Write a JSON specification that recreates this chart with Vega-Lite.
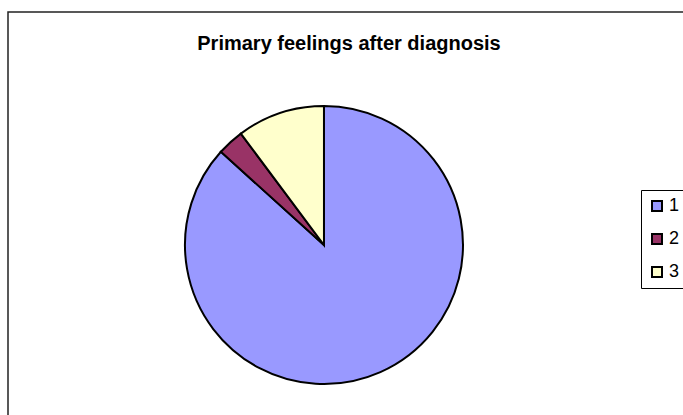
{
  "$schema": "https://vega.github.io/schema/vega-lite/v6.json",
  "width": 682,
  "height": 420,
  "autosize": {"type": "none"},
  "padding": {"left": 8, "top": 12, "right": 0, "bottom": 0},
  "background": "white",
  "config": {
    "view": {"stroke": "#222222", "strokeWidth": 1.5},
    "font": "Liberation Sans"
  },
  "title": {
    "text": "Primary feelings after diagnosis",
    "font": "Liberation Sans",
    "fontSize": 20,
    "fontWeight": "bold",
    "color": "black",
    "anchor": "middle",
    "baseline": "alphabetic",
    "offset": -58
  },
  "data": {
    "values": [
      {"category": "1", "value": 86.7},
      {"category": "2", "value": 3.1},
      {"category": "3", "value": 10.2}
    ]
  },
  "mark": {"type": "arc", "outerRadius": 139, "stroke": "black", "strokeWidth": 2},
  "encoding": {
    "theta": {"field": "value", "type": "quantitative", "stack": true},
    "order": {"field": "category", "type": "nominal"},
    "x": {"datum": 0.4633, "type": "quantitative", "scale": {"domain": [0, 1], "nice": false, "zero": false}, "axis": null},
    "y": {"datum": 0.5548, "type": "quantitative", "scale": {"domain": [0, 1], "nice": false, "zero": false, "reverse": true}, "axis": null},
    "color": {
      "field": "category",
      "type": "nominal",
      "scale": {"domain": ["1", "2", "3"], "range": ["#9999FF", "#993366", "#FFFFCC"]},
      "legend": {
        "title": null,
        "orient": "none",
        "legendX": 633,
        "legendY": 178,
        "strokeColor": "black",
        "padding": 7,
        "symbolType": "square",
        "symbolSize": 100,
        "symbolStrokeColor": "black",
        "symbolStrokeWidth": 2,
        "symbolOpacity": 1,
        "labelFont": "Liberation Sans",
        "labelFontSize": 18,
        "labelColor": "black",
        "labelOffset": 3,
        "rowPadding": 15,
        "labelExpr": "datum.label + '          '"
      }
    }
  }
}
